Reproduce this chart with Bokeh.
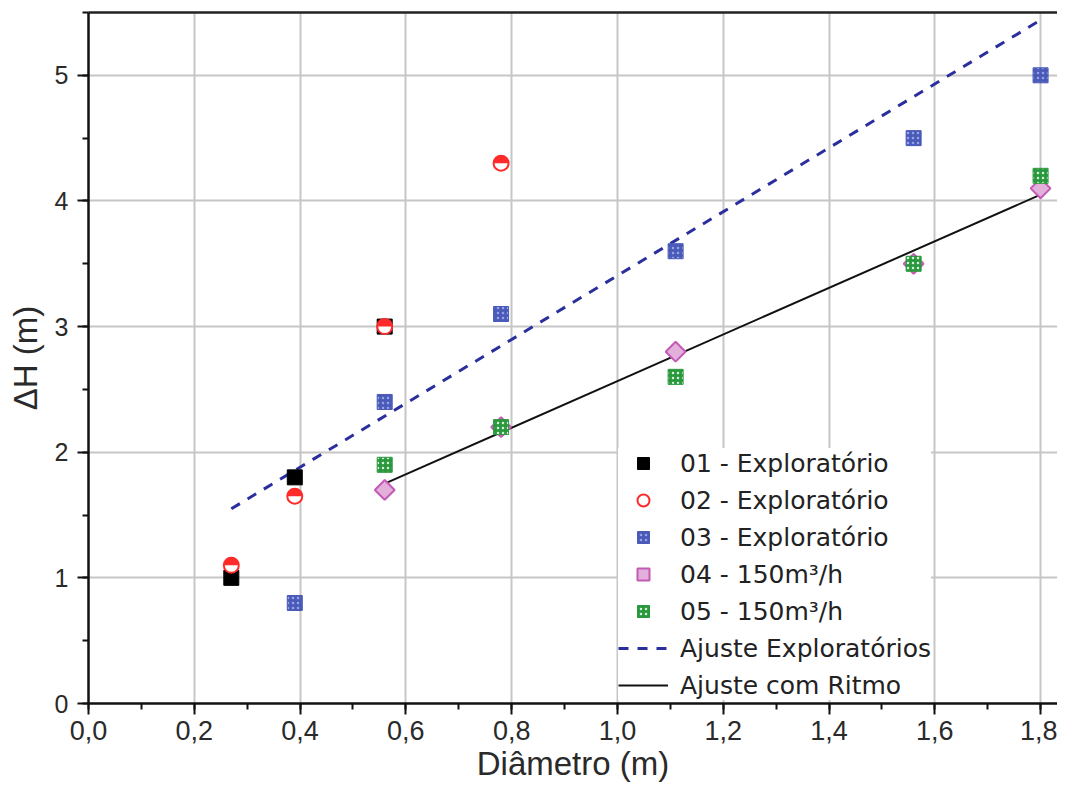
import math
from bokeh.plotting import figure
from bokeh.models import (Range1d, SingleIntervalTicker, CustomJSTickFormatter,
                          Legend, LegendItem, LinearAxis, FixedTicker)
from bokeh.embed import file_html
from bokeh.resources import INLINE

# ---- data ----
x01 = [0.27, 0.39, 0.56]
y01 = [1.00, 1.80, 3.00]

x02 = [0.27, 0.39, 0.56, 0.78]
y02 = [1.10, 1.65, 3.00, 4.30]

x03 = [0.39, 0.56, 0.78, 1.11, 1.56, 1.80]
y03 = [0.80, 2.40, 3.10, 3.60, 4.50, 5.00]

x04 = [0.56, 0.78, 1.11, 1.56, 1.80]
y04 = [1.70, 2.20, 2.80, 3.50, 4.10]

x05 = [0.56, 0.78, 1.11, 1.56, 1.80]
y05 = [1.90, 2.20, 2.60, 3.50, 4.20]

fit_expl_x = [0.27, 1.80]
fit_expl_y = [1.55, 5.44]

fit_ritmo_x = [0.56, 1.80]
fit_ritmo_y = [1.75, 4.05]

labels = ["01 - Exploratório", "02 - Exploratório", "03 - Exploratório",
          "04 - 150m³/h", "05 - 150m³/h", "Ajuste Exploratórios", "Ajuste com Ritmo"]

FONT = "Liberation Sans"

p = figure(width=1057, height=794, output_backend="svg", toolbar_location=None,
           x_range=Range1d(0, 1.832), y_range=Range1d(0, 5.5),
           min_border_left=88, min_border_right=0, min_border_top=12,
           min_border_bottom=91)

p.background_fill_color = "white"
p.border_fill_color = "white"
p.outline_line_color = None

xt = SingleIntervalTicker(interval=0.2, num_minor_ticks=2)
yt = SingleIntervalTicker(interval=1, num_minor_ticks=2)

xax = p.below[0]
yax = p.left[0]
xax.ticker = xt
yax.ticker = yt
xax.formatter = CustomJSTickFormatter(code="return tick.toFixed(1).replace('.', ',');")
xax.axis_label = "Diâmetro (m)"
yax.axis_label = "ΔH (m)"
for ax in (xax, yax):
    ax.axis_line_color = "#111111"
    ax.axis_line_width = 2.5
    ax.major_tick_line_color = "#111111"
    ax.major_tick_line_width = 2
    ax.major_tick_out = 11
    ax.major_tick_in = 0
    ax.minor_tick_line_color = "#111111"
    ax.minor_tick_line_width = 2
    ax.minor_tick_out = 6
    ax.minor_tick_in = 0
    ax.major_label_text_font = FONT
    ax.major_label_text_color = "#2a2a2a"
    ax.axis_label_text_font = FONT
    ax.axis_label_text_font_style = "normal"
    ax.axis_label_text_color = "#2a2a2a"
xax.major_label_text_font_size = "27px"
yax.major_label_text_font_size = "25px"
xax.axis_label_text_font_size = "33px"
yax.axis_label_text_font_size = "33px"
xax.major_label_standoff = 6
xax.axis_label_standoff = 2
yax.major_label_standoff = 9
yax.axis_label_standoff = 8

# grid
p.xgrid.ticker = xt
p.ygrid.ticker = yt
p.xgrid.grid_line_color = "#c6c6c6"
p.xgrid.grid_line_width = 2
p.ygrid.grid_line_color = "#c6c6c6"
p.ygrid.grid_line_width = 2

# top border line (no right border in the original)
top_axis = LinearAxis(ticker=FixedTicker(ticks=[]), axis_line_color="#222222",
                      axis_line_width=2.5, major_label_text_font_size="0px",
                      major_tick_line_color=None, minor_tick_line_color=None)
p.add_layout(top_axis, "above")

# fit lines
r_fe = p.line(fit_expl_x, fit_expl_y, line_color="#2b2f9e", line_width=3,
              line_dash="10 9")
r_fr = p.line(fit_ritmo_x, fit_ritmo_y, line_color="#111111", line_width=2)

# series
r01 = p.scatter(x01, y01, marker="square", size=15, fill_color="black",
                line_color="black")
r02 = p.scatter(x02, y02, marker="circle", size=15, fill_color="white",
                line_color="#ff2a2a", line_width=2)
p.wedge(x02, y02, radius=7.5, radius_units="screen", start_angle=0,
        end_angle=math.pi, fill_color="#ff2a2a", line_color=None)
r03 = p.scatter(x03, y03, marker="square", size=15, fill_color="#4a5ab8",
                line_color="#4a5ab8", hatch_pattern="dot", hatch_color="#9aa4e4",
                hatch_scale=5)
r04 = p.scatter(x04, y04, marker="square", angle=math.pi / 4, size=14,
                fill_color="#e2b0da", line_color="#c45ab6", line_width=2)
r05 = p.scatter(x05, y05, marker="square", size=15, fill_color="#2a983c",
                line_color="#2a983c", hatch_pattern="dot", hatch_color="#d8f0dc",
                hatch_scale=5)

legend = Legend(items=[
    LegendItem(label=labels[0], renderers=[r01]),
    LegendItem(label=labels[1], renderers=[r02]),
    LegendItem(label=labels[2], renderers=[r03]),
    LegendItem(label=labels[3], renderers=[r04]),
    LegendItem(label=labels[4], renderers=[r05]),
    LegendItem(label=labels[5], renderers=[r_fe]),
    LegendItem(label=labels[6], renderers=[r_fr]),
], location=(530, 3))
legend.background_fill_color = "white"
legend.background_fill_alpha = 1.0
legend.border_line_color = None
legend.label_text_font = "DejaVu Sans"
legend.label_text_font_size = "25px"
legend.label_text_color = "#222222"
legend.label_height = 30
legend.glyph_height = 30
legend.glyph_width = 50
legend.spacing = 7
legend.padding = 2
legend.margin = 0
legend.label_standoff = 12
p.add_layout(legend, "center")

open("out.html", "w").write(file_html(p, INLINE))
